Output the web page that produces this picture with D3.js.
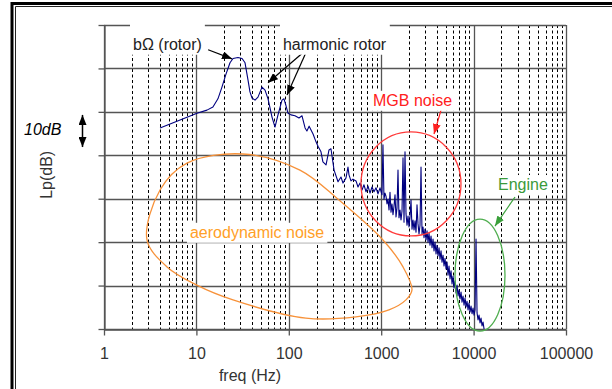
<!DOCTYPE html>
<html>
<head>
<meta charset="utf-8">
<script src="https://cdn.jsdelivr.net/npm/d3@7"></script>
<style>
  body { margin: 0; background: #fff; }
  svg { display: block; font-family: "Liberation Sans", Arial, sans-serif; }
</style>
</head>
<body>
<script>
(function () {
  'use strict';

  // ---- data ----
  var decadeTicks = [1, 10, 100, 1000, 10000, 100000];
  var levelTicks = [0, 10, 20, 30, 40, 50, 60, 70];

  // measured spectrum, Hz / relative dB
  var spectrumFreq = [
    4.04, 10.15, 13.0, 15.1, 17.1, 18.9, 20.9, 23.1, 24.9, 28.2, 31.2, 33.6, 36.2, 38.0, 40.0,
    43.1, 46.4, 51.3, 55.3, 59.6, 65.8, 70.9, 76.4, 84.4, 88.7, 93.3, 98.0, 105.7, 116.7, 128.9,
    139, 150, 157, 166, 183, 197, 207, 223, 234, 253, 272, 286, 309, 341, 367, 386, 416, 437,
    448, 471, 495,
    534, 561, 590, 620, 651, 685, 720, 757, 795, 836, 879, 923, 971, 1020, 1045, 1072, 1099,
    1127, 1156, 1185, 1215, 1245, 1277, 1309, 1342, 1376, 1411, 1446, 1483, 1520, 1558, 1598, 1638,
    1680, 1722, 1766, 1810, 1856, 1903, 1951, 2000, 2050, 2102, 2155, 2210, 2266, 2323, 2381, 2441,
    2503, 2566, 2631, 2697, 2766, 2835, 2907, 2980, 3056, 3133, 3212, 3293, 3376, 3461, 3549, 3638,
    3730, 3824, 3921, 4020, 4121, 4225, 4332, 4441, 4553, 4668, 4786, 4907, 5031, 5158, 5288, 5421,
    5558, 5698, 5842, 5989, 6141, 6296, 6455, 6618, 6785, 6956, 7132, 7312, 7496, 7685, 7879, 8078,
    8282, 8491, 8706, 8925, 9151, 9382, 9618, 9861, 10110, 10365, 10627, 10895, 11170, 11452, 11741,
    12037, 12342, 12653, 12972
  ];
  var spectrumLevel = [
    46.3, 49.7, 50.4, 51.1, 53.0, 55.7, 58.7, 61.3, 62.3, 62.5, 62.3, 61.3, 57.3, 54.6, 53.2,
    52.7, 53.4, 55.7, 55.0, 53.0, 48.8, 46.5, 49.3, 52.7, 53.0, 51.4, 49.7, 49.3, 49.1, 48.6,
    49.1, 46.3, 45.6, 46.7, 44.9, 43.1, 42.1, 40.8, 38.5, 37.8, 41.2, 41.5, 36.6, 33.9, 35.0, 33.6, 34.8, 37.3,
    35.5, 34.1, 34.5,
    34.1, 32.7, 33.6, 32.0, 33.2, 31.6, 32.9, 31.3, 32.7, 31.6, 32.5, 31.1, 32.5, 30.9, 42.4, 29.9, 31.3,
    30.6, 28.8, 29.9, 27.4, 31.5, 26.9, 28.8, 26.3, 28.3, 30.9, 25.8, 27.9, 36.6, 25.6, 27.4, 25.1,
    27.2, 39.4, 24.6, 40.8, 26.5, 23.9, 26.0, 23.5, 25.8, 29.7, 23.0, 25.1, 22.8, 24.9, 22.3, 28.6,
    24.2, 21.9, 23.9, 37.3, 21.9, 23.5, 21.0, 23.0, 20.5, 22.6, 20.0, 22.1, 19.3, 21.4, 18.7, 20.7,
    18.0, 20.0, 17.3, 19.3, 16.8, 18.7, 16.1, 18.0, 15.4, 17.0, 14.5, 16.3, 13.8, 15.4, 12.4, 14.5,
    11.5, 13.4, 10.4, 12.2, 9.4, 11.1, 8.3, 10.1, 7.6, 9.0, 6.9, 8.5, 6.2, 7.6, 5.5, 7.1,
    5.1, 6.4, 4.4, 6.0, 3.9, 5.3, 3.5, 4.8, 3.2, 4.4, 20.7, 3.7, 2.1, 3.2, 1.4,
    2.5, 0.7, 1.6, 0.0
  ];

  // hand drawn "aerodynamic noise" loop, Hz / dB
  var aeroFreq = [2.92, 4.04, 7.91, 31.9, 132, 349, 1045, 1722, 2153, 1854, 1214, 534, 153, 24.9, 10.1, 4.81];
  var aeroLevel = [20.5, 32.0, 38.2, 40.3, 36.6, 29.7, 20.5, 14.3, 9.0, 6.7, 4.4, 2.8, 2.5, 6.7, 10.1, 14.3];

  var labels = [
    { text: 'b\u03A9 (rotor)', f: 2.06, db: 64.3, color: '#222', padTop: 13 },
    { text: 'harmonic rotor', f: 86.5, db: 64.3, color: '#222', padTop: 13 },
    { text: 'MGB noise', f: 815, db: 51.4, color: '#ff2020', padTop: 1 },
    { text: 'Engine', f: 18360, db: 32.0, color: '#3a9a3a', padTop: 1 },
    { text: 'aerodynamic noise', f: 8.52, db: 21.0, color: '#ffa028', padTop: 1 }
  ];

  var arrows = [
    { f1: 13.4, d1: 64.3, f2: 24.3, d2: 62.2, color: '#000' },
    { f1: 142, d1: 63.6, f2: 59.6, d2: 56.7, color: '#000' },
    { f1: 153, d1: 63.6, f2: 95.6, d2: 53.9, color: '#000' },
    { f1: 4440, d1: 50.4, f2: 3728, d2: 44.9, color: '#ff2020' },
    { f1: 28060, d1: 30.4, f2: 17040, d2: 23.7, color: '#3aa03a' }
  ];

  var width = 612,
    height = 389;

  var svg = d3.select('body')
    .append('svg')
    .attr('width', width)
    .attr('height', height);

  var x = d3.scaleLog().domain([1, 100000]).range([104, 566]);
  var y = d3.scaleLinear().domain([0, 70]).range([329, 25]);

  // outer frame of the embedded picture
  svg.append('path').attr('d', 'M12,389V3.5H612').attr('fill', 'none')
    .attr('stroke', '#000').attr('stroke-width', 3);
  svg.append('path').attr('d', 'M15.5,389V6.5H612').attr('fill', 'none')
    .attr('stroke', '#222').attr('stroke-width', 1);

  // arrow heads
  var defs = svg.append('defs');
  ['#000', '#ff2020', '#3aa03a'].forEach(function (c, i) {
    defs.append('marker')
      .attr('id', 'head' + i)
      .attr('markerUnits', 'userSpaceOnUse')
      .attr('viewBox', '0 0 10 8')
      .attr('refX', 10).attr('refY', 4)
      .attr('markerWidth', 10).attr('markerHeight', 8)
      .attr('orient', 'auto-start-reverse')
      .append('path').attr('d', 'M0,0L10,4L0,8Z').attr('fill', c);
  });
  var headId = { '#000': 'head0', '#ff2020': 'head1', '#3aa03a': 'head2' };

  // minor (dashed) vertical grid
  var minor = [];
  decadeTicks.slice(0, -1).forEach(function (d) {
    for (var k = 2; k < 10; k++) minor.push(d * k);
  });
  svg.append('g').selectAll('line')
    .data(minor)
    .enter()
    .append('line')
    .attr('x1', function (d) { return Math.round(x(d)) + 0.5; })
    .attr('x2', function (d) { return Math.round(x(d)) + 0.5; })
    .attr('y1', y(70)).attr('y2', y(0))
    .style('stroke', '#000')
    .style('stroke-width', 1)
    .style('stroke-dasharray', '3,2.5');

  // major grid
  svg.append('g').selectAll('line')
    .data(decadeTicks)
    .enter()
    .append('line')
    .attr('x1', function (d) { return Math.round(x(d)) + 0.5; })
    .attr('x2', function (d) { return Math.round(x(d)) + 0.5; })
    .attr('y1', y(70)).attr('y2', y(0))
    .style('stroke', '#555')
    .style('stroke-width', 1.3);
  svg.append('g').selectAll('line')
    .data(levelTicks)
    .enter()
    .append('line')
    .attr('x1', x(1)).attr('x2', x(100000))
    .attr('y1', function (d) { return Math.round(y(d)) + 0.5; })
    .attr('y2', function (d) { return Math.round(y(d)) + 0.5; })
    .style('stroke', '#555')
    .style('stroke-width', 1.3);

  // axes
  var xAxis = d3.axisBottom(x)
    .tickValues(decadeTicks)
    .tickFormat(d3.format('d'))
    .tickSize(6).tickSizeOuter(0).tickPadding(12);
  var yAxis = d3.axisLeft(y)
    .tickValues(levelTicks)
    .tickFormat('')
    .tickSize(6).tickSizeOuter(0);
  var gx = svg.append('g').attr('transform', 'translate(0,' + (Math.round(y(0)) + 0.5) + ')').call(xAxis);
  var gy = svg.append('g').attr('transform', 'translate(' + (Math.round(x(1)) + 0.5) + ',0)').call(yAxis);
  [gx, gy].forEach(function (g) {
    g.selectAll('path, line').style('stroke', '#555').style('stroke-width', 1.3);
    g.selectAll('text').style('font-size', '16px').style('fill', '#333')
      .style('font-family', '"Liberation Sans", Arial, sans-serif');
  });

  // label boxes cover the grid
  var labelG = svg.append('g');
  var texts = labelG.selectAll('text')
    .data(labels)
    .enter()
    .append('text')
    .attr('x', function (d) { return x(d.f); })
    .attr('y', function (d) { return y(d.db); })
    .style('font-size', '16px')
    .style('fill', function (d) { return d.color; })
    .text(function (d) { return d.text; });
  texts.each(function (d) {
    var b = this.getBBox();
    labelG.insert('rect', 'text')
      .attr('x', b.x - 3).attr('y', b.y - d.padTop)
      .attr('width', b.width + 6).attr('height', b.height + d.padTop + 2)
      .style('fill', '#fff');
  });

  // spectrum
  var spectrum = spectrumFreq.map(function (f, i) { return [f, spectrumLevel[i]]; });
  var line = d3.line()
    .x(function (d) { return x(d[0]); })
    .y(function (d) { return y(d[1]); });
  svg.append('path')
    .datum(spectrum)
    .attr('d', line)
    .style('fill', 'none')
    .style('stroke', '#000080')
    .style('stroke-width', 1.1)
    .style('stroke-linejoin', 'round');

  // annotation shapes
  var aero = aeroFreq.map(function (f, i) { return [f, aeroLevel[i]]; });
  svg.append('path')
    .datum(aero)
    .attr('d', line.curve(d3.curveCatmullRomClosed.alpha(0.5)))
    .style('fill', 'none')
    .style('stroke', '#f7923a')
    .style('stroke-width', 1.3);

  svg.append('ellipse')
    .attr('cx', x(2101)).attr('cy', y(33.4))
    .attr('rx', 50).attr('ry', 52)
    .style('fill', 'none').style('stroke', '#ff3a3a').style('stroke-width', 1.3);
  svg.append('ellipse')
    .attr('cx', x(11730)).attr('cy', y(12.4))
    .attr('rx', 25).attr('ry', 56)
    .style('fill', 'none').style('stroke', '#4fae4f').style('stroke-width', 1.3);

  svg.append('g').selectAll('line')
    .data(arrows)
    .enter()
    .append('line')
    .attr('x1', function (d) { return x(d.f1); })
    .attr('y1', function (d) { return y(d.d1); })
    .attr('x2', function (d) { return x(d.f2); })
    .attr('y2', function (d) { return y(d.d2); })
    .style('stroke', function (d) { return d.color; })
    .style('stroke-width', 1.2)
    .attr('marker-end', function (d) { return 'url(#' + headId[d.color] + ')'; });

  labelG.raise();

  // axis titles and the 10 dB key
  svg.append('text')
    .attr('x', 250).attr('y', 381)
    .attr('text-anchor', 'middle')
    .style('font-size', '16px').style('fill', '#333')
    .text('freq (Hz)');
  svg.append('text')
    .attr('transform', 'translate(52,' + y(35.5) + ') rotate(-90)')
    .attr('text-anchor', 'middle')
    .style('font-size', '16px').style('fill', '#333')
    .text('Lp(dB)');
  svg.append('text')
    .attr('x', 24).attr('y', 135)
    .style('font-size', '16px').style('font-style', 'italic').style('fill', '#000')
    .text('10dB');
  svg.append('line')
    .attr('x1', 82.5).attr('x2', 82.5)
    .attr('y1', y(49.3)).attr('y2', y(41.9))
    .style('stroke', '#000').style('stroke-width', 1.5)
    .attr('marker-start', 'url(#head0)')
    .attr('marker-end', 'url(#head0)');
})();
</script>
</body>
</html>
